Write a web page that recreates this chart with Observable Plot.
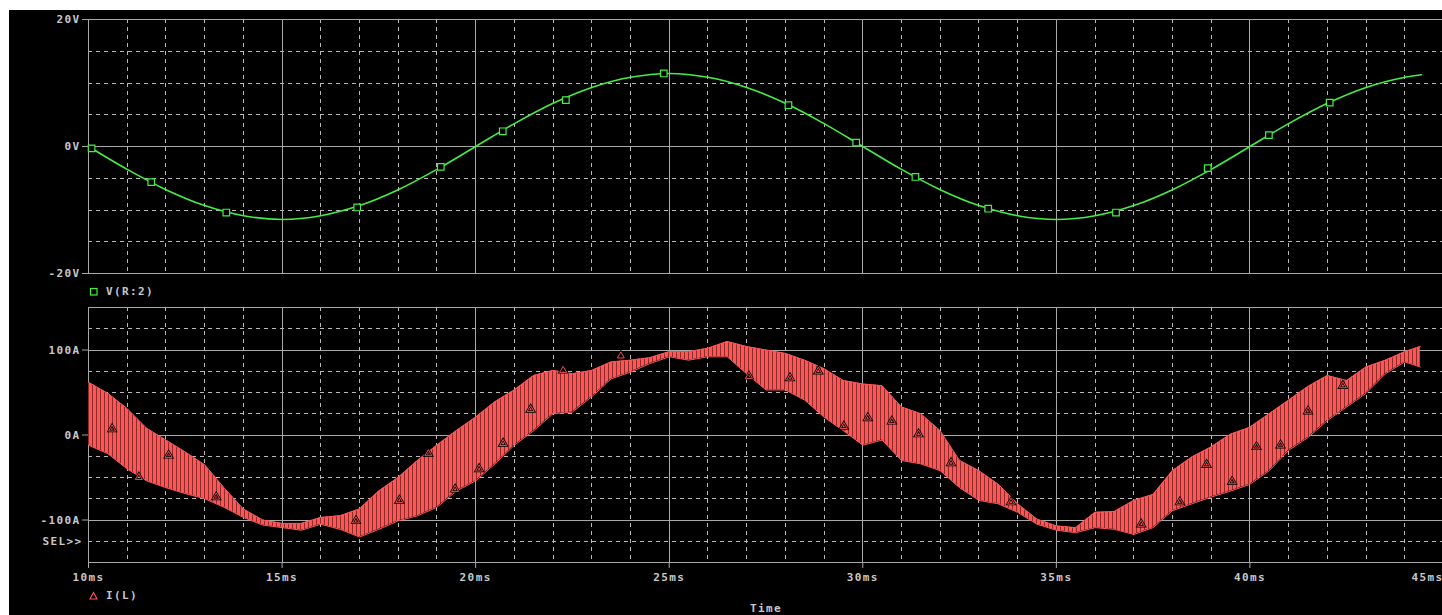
<!DOCTYPE html>
<html><head><meta charset="utf-8">
<script src="https://cdn.jsdelivr.net/npm/d3@7"></script>
<script src="https://cdn.jsdelivr.net/npm/@observablehq/plot@0.6"></script>
<style>
html,body{margin:0;padding:0;background:#fff;overflow:hidden;width:1442px;height:615px;}
#bg{position:absolute;left:9px;top:10px;width:1433px;height:605px;background:#000;}
#top,#bot{position:absolute;left:0;}
#top{top:0}
#bot{top:280px}
svg{max-width:none !important;}
svg text, .lg{font-family:"DejaVu Sans Mono",monospace;font-size:11px;font-weight:bold;letter-spacing:1.4px;fill:#c8c8c8;color:#c8c8c8;}
.lg{position:absolute;line-height:12px;white-space:pre}
</style></head><body>
<div id="bg"></div>
<div id="top"></div>
<div id="bot"></div>
<svg class="lg" style="left:90px;top:288px;overflow:visible" width="8" height="8"><rect x="0.5" y="0.5" width="6.5" height="6.5" fill="none" stroke="#44ee44" stroke-width="1.2"/></svg>
<div class="lg" style="left:106px;top:286px;">V(R:2)</div>
<svg class="lg" style="left:90px;top:592px;overflow:visible" width="8" height="8"><polygon points="3.5,0.5 7,7 0,7" fill="none" stroke="#ff5555" stroke-width="1.1"/></svg>
<div class="lg" style="left:106px;top:590px;">I(L)</div>
<script>
// ---- V(R:2) trace (ms, volts) ----
const tV = [10,11,12,13,14,15,16,17,18,19,20,21,22,23,24,25,26,27,28,29,30,31,32,33,34,35,36,37,38,39,40,41,42,43,44,44.43];
const vV = [0,-3.6,-6.8,-9.3,-10.9,-11.5,-10.9,-9.3,-6.8,-3.6,0,3.6,6.8,9.3,10.9,11.5,10.9,9.3,6.8,3.6,0,-3.6,-6.8,-9.3,-10.9,-11.5,-10.9,-9.3,-6.8,-3.6,0,3.6,6.8,9.3,10.9,11.3];
const tMarkV = [10.08,11.62,13.56,16.94,19.10,20.70,22.33,24.86,28.08,29.83,31.36,33.24,36.54,38.91,40.49,42.06];
const vMark = [-0.3,-5.6,-10.4,-9.6,-3.2,2.4,7.3,11.5,6.5,0.6,-4.8,-9.8,-10.4,-3.4,1.8,6.9];

// ---- I(L) trace: ripple envelope (ms, amps) ----
const tI = [10,10.5,11,11.5,12,12.5,13,13.5,14,14.5,15,15.5,16,16.5,17,17.5,18,18.5,19,19.5,20,20.5,21,21.5,22,22.5,23,23.5,24,24.5,25,25.5,26,26.5,27,27.5,28,28.5,29,29.5,30,30.5,31,31.5,32,32.5,33,33.5,34,34.5,35,35.5,36,36.5,37,37.5,38,38.5,39,39.5,40,40.5,41,41.5,42,42.5,43,43.5,44,44.4];
const iUpper = [62,49,31,8,-6,-20,-35,-62,-87,-100,-104,-104,-97,-95,-87,-66,-50,-30,-12,5,21,39,53,70,76,72,76,86,88,91,98,98,102,110,104,100,96,88,78,64,60,58,33,25,5,-30,-42,-58,-81,-99,-107,-109,-91,-90,-77,-70,-42,-26,-14,1,9,25,41,57,70,64,80,88,98,104];
const iLower = [-12,-22,-40,-54,-62,-69,-75,-85,-97,-106,-109,-112,-105,-111,-120,-111,-101,-95,-85,-66,-54,-34,-12,5,25,27,45,66,74,84,92,88,92,92,72,53,53,41,21,5,-12,-6,-30,-34,-42,-62,-77,-81,-91,-105,-112,-115,-109,-111,-117,-109,-89,-81,-73,-66,-58,-42,-18,-3,17,33,49,72,86,80];
const tMarkI = [10.61,11.30,12.07,13.30,16.91,18.03,18.78,19.47,20.09,20.71,21.42,22.26,23.75,27.06,28.12,28.85,29.51,30.13,30.75,31.44,32.28,33.83,37.19,38.19,38.88,39.54,40.17,40.79,41.50,42.40];
const iMark = [7,-50,-24,-73,-101,-77,-22,-64,-40,-10,30,76,93,69,67,75,10,20,16,1,-33,-79,-105,-79,-35,-55,-14,-12,28,58];

// ---- axes / grid ----
const tMajor = [10,15,20,25,30,35,40,45];
const tMinor = [11,12,13,14,16,17,18,19,21,22,23,24,26,27,28,29,31,32,33,34,36,37,38,39,41,42,43,44];
const tTickLabels = [10,15,20,25,30,35,40];
const tLastTick = [45];
const vTicks = [-20,0,20];
const vMinor = [-15,-10,-5,5,10,15];
const iTicks = [-100,0,100];
const iMajor = [-150,-100,0,100,150];
const iMinor = [-125,-75,-50,-25,25,50,75,125];
const selLabel = [{text:"SEL>>", at:-125}];
const xTitle = ["Time"];

const vData = tV.map((t,i)=>({t, v:vV[i]}));
const vMarks = tMarkV.map((t,i)=>({t, v:vMark[i]}));
const iData = tI.map((t,i)=>({t, hi:iUpper[i], lo:iLower[i]}));
const iMarks = tMarkI.map((t,i)=>({t, a:iMark[i]}));

const solid = "#a8a8a8", dashed = "#b8b8b8", txt = "#c8c8c8";
const green = "#44ee44", red = "#ff5555";
const W = 1450, mL = 88, mR = 7;

const topPlot = Plot.plot({
  width: W, height: 300, marginLeft: mL, marginRight: mR, marginTop: 19, marginBottom: 27,
  style: "background:transparent;max-width:none;",
  x: {domain: [10,45], axis: null},
  y: {domain: [-20,20]},
  marks: [
    Plot.ruleY(vMinor, {stroke: dashed, strokeDasharray: "4,4", shapeRendering: "crispEdges"}),
    Plot.ruleX(tMinor, {stroke: dashed, strokeDasharray: "4,4", shapeRendering: "crispEdges"}),
    Plot.ruleX(tMajor, {stroke: solid, shapeRendering: "crispEdges"}),
    Plot.ruleY(vTicks, {stroke: solid, shapeRendering: "crispEdges"}),
    Plot.axisY(vTicks, {tickFormat: d => d + "V", tickSize: 6, tickPadding: 2, stroke: solid, fill: txt, label: null}),
    Plot.line(vData, {x: "t", y: "v", stroke: green, strokeWidth: 1.6, curve: "catmull-rom"}),
    Plot.dot(vMarks, {x: "t", y: "v", symbol: "square", r: 3.7, stroke: green, fill: "#000", strokeWidth: 1.2})
  ]
});
document.getElementById("top").append(topPlot);

const botPlot = Plot.plot({
  width: W, height: 335, marginLeft: mL, marginRight: mR, marginTop: 27, marginBottom: 53,
  style: "background:transparent;max-width:none;",
  x: {domain: [10,45]},
  y: {domain: [-150,150]},
  marks: [
    Plot.ruleY(iMinor, {stroke: dashed, strokeDasharray: "4,4", shapeRendering: "crispEdges"}),
    Plot.ruleX(tMinor, {stroke: dashed, strokeDasharray: "4,4", shapeRendering: "crispEdges"}),
    Plot.ruleX(tMajor, {stroke: solid, shapeRendering: "crispEdges"}),
    Plot.ruleY(iMajor, {stroke: solid, shapeRendering: "crispEdges"}),
    Plot.axisY(iTicks, {tickFormat: d => d + "A", tickSize: 6, tickPadding: 2, stroke: solid, fill: txt, label: null}),
    Plot.text(selLabel, {y: "at", text: "text", frameAnchor: "left", textAnchor: "end", dx: -6, fill: txt}),
    Plot.axisX(tTickLabels, {tickFormat: d => d + "ms", tickSize: 6, tickPadding: 5, stroke: solid, fill: txt, label: null}),
    Plot.text(tLastTick, {x: d => d, text: d => d + "ms", frameAnchor: "bottom", lineAnchor: "top", textAnchor: "end", dy: 11, dx: 0, fill: txt}),
    Plot.text(xTitle, {text: d => d, frameAnchor: "bottom", lineAnchor: "top", dy: 42, fill: txt}),
    Plot.areaY(iData, {x: "t", y1: "lo", y2: "hi", fill: "url(#ilStripes)"}),
    Plot.line(iData, {x: "t", y: "hi", stroke: red, strokeWidth: 1}),
    Plot.line(iData, {x: "t", y: "lo", stroke: red, strokeWidth: 1}),
    Plot.dot(iMarks, {x: "t", y: "a", symbol: "triangle", r: 2.6, stroke: "#000", strokeWidth: 2.4, fill: "none"}),
    Plot.dot(iMarks, {x: "t", y: "a", symbol: "triangle", r: 2.6, stroke: red, strokeWidth: 0.9, fill: "none"})
  ]
});
const defs = document.createElementNS("http://www.w3.org/2000/svg", "defs");
defs.innerHTML = '<pattern id="ilStripes" width="4" height="10" patternUnits="userSpaceOnUse"><rect width="4" height="10" fill="#ff5555"/><rect width="1" height="10" fill="#8b2b2b"/></pattern>';
botPlot.insertBefore(defs, botPlot.firstChild);
document.getElementById("bot").append(botPlot);
</script>
</body></html>
